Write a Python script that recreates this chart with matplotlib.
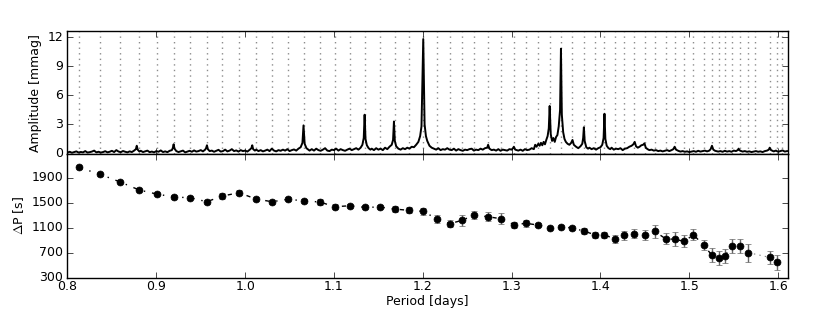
import matplotlib
matplotlib.use('Agg')
import matplotlib.pyplot as plt

# mode periods (days) and period spacings (s) with errors
periods = [0.8126, 0.8369, 0.8595, 0.8809, 0.9005, 0.9199, 0.9383, 0.9568, 0.9743, 0.9931,
           1.0123, 1.0303, 1.0480, 1.0660, 1.0840, 1.1012, 1.1181, 1.1347, 1.1514, 1.1682,
           1.1842, 1.2006, 1.2159, 1.2304, 1.2440, 1.2580, 1.2733, 1.2878, 1.3026, 1.3161,
           1.3296, 1.3428, 1.3555, 1.3685, 1.3811, 1.3935, 1.4044, 1.4166, 1.4267, 1.4382,
           1.4498, 1.4610, 1.4732, 1.4836, 1.4943, 1.5047, 1.5160, 1.5254, 1.5333, 1.5399,
           1.5477, 1.5568, 1.5666, 1.5903, 1.5982]
dP = [2066, 1954, 1831, 1703, 1639, 1591, 1580, 1516, 1607, 1660,
      1559, 1516, 1554, 1532, 1511, 1436, 1452, 1426, 1431, 1399,
      1378, 1362, 1239, 1164, 1218, 1303, 1276, 1244, 1148, 1170,
      1143, 1095, 1116, 1095, 1047, 988, 988, 914, 978, 1004,
      983, 1042, 924, 914, 882, 988, 818, 663, 615, 647,
      807, 807, 700, 626, 546]
dP_err = [20, 20, 20, 20, 20, 25, 25, 30, 50, 40,
          35, 30, 30, 30, 48, 43, 30, 30, 35, 53,
          48, 51, 65, 60, 88, 65, 75, 85, 50, 53,
          25, 20, 20, 25, 48, 50, 45, 64, 70, 70,
          75, 104, 90, 110, 96, 85, 80, 112, 110, 115,
          117, 115, 147, 101, 125]
# periods of the two modes closing the sequence (no spacing plotted)
extra_periods = [1.5744, 1.6046]
gap_index = 52  # a mode is missing between this point and the next

# amplitude spectrum (period in days, amplitude in mmag)
spectrum = [
    (0.8000, .10), (0.8025, .18), (0.8050, .08), (0.8075, .15), (0.8100, .22), (0.8125, .10),
    (0.8150, .16), (0.8175, .12), (0.8200, .25), (0.8225, .10), (0.8250, .14), (0.8275, .20),
    (0.8300, .30), (0.8325, .12), (0.8350, .18), (0.8375, .10), (0.8400, .15), (0.8425, .24),
    (0.8450, .12), (0.8475, .18), (0.8500, .28), (0.8525, .15), (0.8550, .35), (0.8575, .20),
    (0.8600, .14), (0.8625, .26), (0.8650, .18), (0.8675, .12), (0.8700, .22), (0.8725, .15),
    (0.8750, .30), (0.8770, .45), (0.8780, .80), (0.8790, .40), (0.8810, .20), (0.8825, .28),
    (0.8850, .15), (0.8875, .22), (0.8900, .30), (0.8925, .14), (0.8950, .20), (0.8975, .12),
    (0.9000, .25), (0.9025, .18), (0.9050, .32), (0.9075, .15), (0.9100, .22), (0.9125, .14),
    (0.9150, .28), (0.9175, .35), (0.9185, .55), (0.9195, .95), (0.9205, .50), (0.9225, .25),
    (0.9250, .15), (0.9275, .22), (0.9300, .30), (0.9325, .12), (0.9350, .20), (0.9375, .28),
    (0.9400, .18), (0.9425, .32), (0.9450, .20), (0.9475, .25), (0.9500, .35), (0.9525, .22),
    (0.9550, .40), (0.9560, .55), (0.9570, .85), (0.9580, .45), (0.9600, .25), (0.9625, .30),
    (0.9650, .18), (0.9675, .28), (0.9700, .38), (0.9725, .20), (0.9750, .25), (0.9775, .40),
    (0.9800, .22), (0.9825, .30), (0.9850, .45), (0.9875, .25), (0.9900, .32), (0.9925, .20),
    (0.9950, .35), (0.9975, .25), (1.0000, .30), (1.0025, .20), (1.0050, .38), (1.0070, .55),
    (1.0080, .85), (1.0090, .45), (1.0110, .30), (1.0125, .40), (1.0150, .25), (1.0175, .35),
    (1.0200, .22), (1.0225, .30), (1.0250, .40), (1.0275, .25), (1.0300, .50), (1.0325, .30),
    (1.0350, .22), (1.0375, .35), (1.0400, .28), (1.0425, .40), (1.0450, .30), (1.0475, .45),
    (1.0500, .25), (1.0525, .35), (1.0550, .42), (1.0575, .30), (1.0600, .50), (1.0625, .65),
    (1.0645, 1.1), (1.0657, 2.9), (1.0670, 1.0), (1.0690, .55), (1.0710, .40), (1.0725, .30),
    (1.0750, .45), (1.0775, .30), (1.0800, .50), (1.0825, .35), (1.0850, .28), (1.0875, .40),
    (1.0900, .55), (1.0925, .30), (1.0950, .25), (1.0975, .40), (1.1000, .35), (1.1025, .50),
    (1.1050, .30), (1.1075, .45), (1.1100, .35), (1.1125, .28), (1.1150, .40), (1.1175, .50),
    (1.1200, .35), (1.1225, .45), (1.1250, .55), (1.1275, .40), (1.1300, .60), (1.1320, .90),
    (1.1335, 1.6), (1.1345, 4.0), (1.1355, 1.5), (1.1370, .85), (1.1390, .55), (1.1410, .40),
    (1.1425, .50), (1.1450, .35), (1.1475, .55), (1.1500, .40), (1.1525, .50), (1.1550, .35),
    (1.1575, .60), (1.1600, .45), (1.1625, .70), (1.1650, .90), (1.1665, 1.4), (1.1675, 3.3),
    (1.1685, 1.3), (1.1700, .75), (1.1725, .50), (1.1750, .40), (1.1775, .55), (1.1800, .45),
    (1.1825, .60), (1.1850, .50), (1.1875, .70), (1.1900, .65), (1.1925, .90), (1.1950, 1.2),
    (1.1970, 1.8), (1.1985, 2.8), (1.2005, 11.8), (1.2020, 3.0), (1.2035, 1.8), (1.2050, 1.3),
    (1.2075, .80), (1.2100, .60), (1.2125, .50), (1.2150, .40), (1.2175, .55), (1.2200, .35),
    (1.2225, .45), (1.2250, .40), (1.2275, .55), (1.2300, .40), (1.2325, .35), (1.2350, .50),
    (1.2375, .30), (1.2400, .45), (1.2425, .35), (1.2450, .28), (1.2475, .40), (1.2500, .35),
    (1.2525, .45), (1.2550, .50), (1.2575, .30), (1.2600, .40), (1.2625, .35), (1.2650, .50),
    (1.2675, .40), (1.2700, .55), (1.2725, .60), (1.2735, .90), (1.2750, .50), (1.2775, .35),
    (1.2800, .40), (1.2825, .30), (1.2850, .45), (1.2875, .28), (1.2900, .40), (1.2925, .35),
    (1.2950, .30), (1.2975, .45), (1.3000, .40), (1.3015, .55), (1.3025, .70), (1.3040, .40),
    (1.3075, .30), (1.3100, .40), (1.3125, .28), (1.3150, .45), (1.3175, .35), (1.3200, .40),
    (1.3225, .55), (1.3250, .45), (1.3265, .90), (1.3280, .70), (1.3300, 1.0), (1.3315, .80),
    (1.3330, 1.1), (1.3345, .85), (1.3360, 1.2), (1.3375, .95), (1.3390, 1.4), (1.3405, 1.8),
    (1.3418, 2.6), (1.3428, 4.9), (1.3440, 2.0), (1.3455, 1.3), (1.3470, 1.6), (1.3485, 1.2),
    (1.3500, 1.7), (1.3515, 1.9), (1.3530, 2.8), (1.3545, 4.5), (1.3555, 10.8), (1.3565, 4.0),
    (1.3580, 2.2), (1.3595, 1.5), (1.3610, 1.2), (1.3630, 1.0), (1.3650, .90), (1.3670, 1.1),
    (1.3685, 1.4), (1.3700, .90), (1.3725, .70), (1.3750, .55), (1.3775, .75), (1.3795, 1.0),
    (1.3805, 1.6), (1.3813, 2.7), (1.3822, 1.3), (1.3840, .65), (1.3860, .50), (1.3875, .60),
    (1.3900, .45), (1.3925, .55), (1.3950, .40), (1.3975, .55), (1.4000, .65), (1.4020, .90),
    (1.4035, 1.6), (1.4045, 4.1), (1.4055, 1.5), (1.4070, .80), (1.4090, .55), (1.4110, .45),
    (1.4125, .60), (1.4150, .40), (1.4175, .50), (1.4200, .45), (1.4225, .55), (1.4250, .35),
    (1.4275, .50), (1.4300, .55), (1.4325, .70), (1.4350, .80), (1.4370, .95), (1.4385, 1.2),
    (1.4400, .75), (1.4420, .60), (1.4440, .70), (1.4460, .85), (1.4480, .90), (1.4495, 1.05),
    (1.4510, .60), (1.4530, .45), (1.4550, .35), (1.4575, .40), (1.4600, .30), (1.4625, .35),
    (1.4650, .25), (1.4675, .30), (1.4700, .22), (1.4725, .28), (1.4750, .35), (1.4775, .25),
    (1.4800, .35), (1.4820, .45), (1.4835, .70), (1.4850, .40), (1.4875, .28), (1.4900, .20),
    (1.4925, .25), (1.4950, .18), (1.4975, .22), (1.5000, .15), (1.5025, .20), (1.5050, .25),
    (1.5075, .18), (1.5100, .28), (1.5125, .20), (1.5150, .25), (1.5175, .30), (1.5200, .22),
    (1.5225, .30), (1.5240, .45), (1.5255, .80), (1.5270, .40), (1.5290, .28), (1.5325, .20),
    (1.5350, .25), (1.5375, .18), (1.5400, .28), (1.5425, .20), (1.5450, .25), (1.5475, .18),
    (1.5500, .30), (1.5525, .25), (1.5545, .35), (1.5555, .50), (1.5570, .30), (1.5600, .20),
    (1.5625, .25), (1.5650, .18), (1.5675, .22), (1.5700, .15), (1.5725, .20), (1.5750, .25),
    (1.5775, .18), (1.5800, .22), (1.5825, .15), (1.5850, .25), (1.5875, .30), (1.5895, .40),
    (1.5905, .60), (1.5920, .35), (1.5950, .22), (1.5975, .30), (1.6000, .18), (1.6025, .25),
    (1.6050, .32), (1.6075, .20), (1.6100, .25),
]
spec_p = [p for p, a in spectrum]
spec_a = [a for p, a in spectrum]

plt.style.use('classic')
plt.rcParams['font.size'] = 9
plt.rcParams['xtick.major.pad'] = 2
plt.rcParams['ytick.major.pad'] = 3

fig = plt.figure(figsize=(8.3, 3.12), dpi=100, facecolor='white')
ax1 = fig.add_axes([0.0813, 0.5064, 0.868, 0.3933])
ax2 = fig.add_axes([0.0813, 0.110, 0.868, 0.3964], sharex=ax1)

# top: spectrum with the mode periods marked
for p in periods + extra_periods:
    ax1.axvline(p, ls=':', color='0.55', lw=1)
ax1.plot(spec_p, spec_a, color='k', lw=1.4)
ax1.set_ylim(-0.05, 12.6)
ax1.set_yticks([0, 3, 6, 9, 12])
ax1.set_ylabel('Amplitude [mmag]')
ax1.yaxis.set_label_coords(-0.036, 0.5)
plt.setp(ax1.get_xticklabels(), visible=False)

# bottom: period spacings
ax2.errorbar(periods, dP, yerr=dP_err, fmt='o', color='k', ecolor='0.4',
             ms=5, capsize=2, elinewidth=1, mec='k', zorder=3)
g = gap_index
ax2.plot(periods[:g + 1], dP[:g + 1], ls='-.', color='k', lw=1)
ax2.plot(periods[g:g + 2], dP[g:g + 2], ls=':', color='0.5', lw=0.8)
ax2.plot(periods[g + 1:], dP[g + 1:], ls='-.', color='k', lw=1)
ax2.set_ylim(300, 2280)
ax2.set_yticks([300, 700, 1100, 1500, 1900])
ax2.set_xlim(0.8, 1.611)
ax2.set_xticks([0.8, 0.9, 1.0, 1.1, 1.2, 1.3, 1.4, 1.5, 1.6])
ax2.set_xlabel('Period [days]', labelpad=1)
ax2.set_ylabel(r'$\Delta$P [s]')
ax2.yaxis.set_label_coords(-0.058, 0.5)

fig.savefig('out.png', dpi=100, facecolor='white')
